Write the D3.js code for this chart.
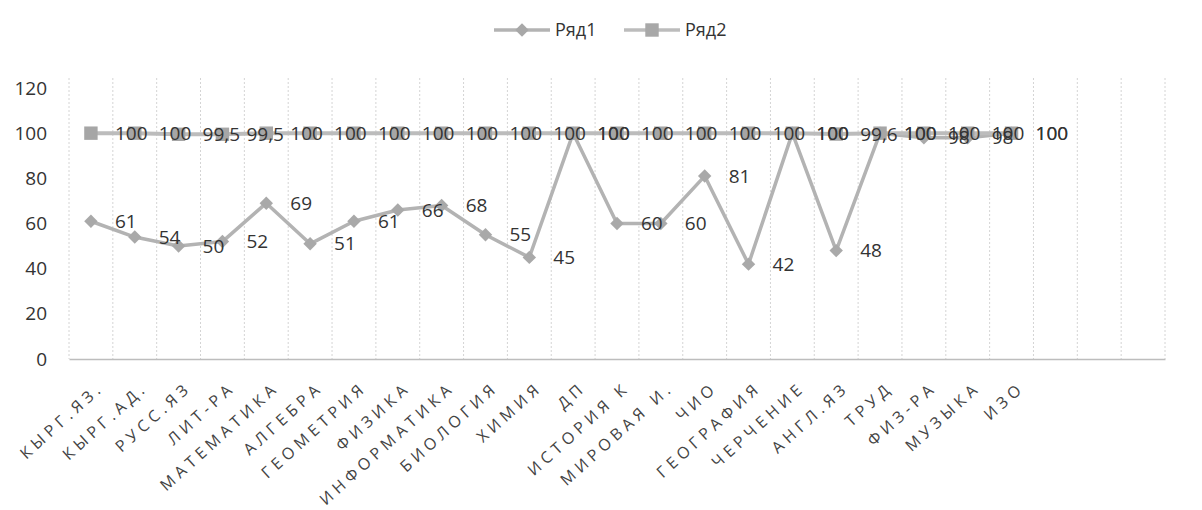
<!DOCTYPE html>
<html>
<head>
<meta charset="utf-8">
<script src="https://cdn.jsdelivr.net/npm/d3@7"></script>
<style>
    body { margin: 0; background: #fff; }
    svg { font-family: "Open Sans", "DejaVu Sans", sans-serif; }
</style>
</head>
<body>
<svg width="1202" height="510"></svg>
<script>
// subjects on the category axis
var categories = ["КЫРГ.ЯЗ.", "КЫРГ.АД.", "РУСС.ЯЗ", "ЛИТ-РА", "МАТЕМАТИКА", "АЛГЕБРА",
    "ГЕОМЕТРИЯ", "ФИЗИКА", "ИНФОРМАТИКА", "БИОЛОГИЯ", "ХИМИЯ", "ДП", "ИСТОРИЯ К",
    "МИРОВАЯ И.", "ЧИО", "ГЕОГРАФИЯ", "ЧЕРЧЕНИЕ", "АНГЛ.ЯЗ", "ТРУД", "ФИЗ-РА", "МУЗЫКА", "ИЗО"];
var emptySlots = 3;   // the axis runs on past ИЗО with blank categories

var seriesNames = ["Ряд1", "Ряд2"];
var row1 = [61, 54, 50, 52, 69, 51, 61, 66, 68, 55, 45, 100, 60, 60, 81, 42, 100, 48, 100, 98, 98, 100];
var row2 = [100, 100, 99.5, 99.5, 100, 100, 100, 100, 100, 100, 100, 100, 100, 100, 100, 100, 100, 99.6, 100, 100, 100, 100];

var yTicks = [0, 20, 40, 60, 80, 100, 120];

var svg = d3.select("svg");

var x = d3.scaleBand()
    .domain(d3.range(categories.length + emptySlots))
    .range([69, 1165])
    .padding(0);

var y = d3.scaleLinear()
    .domain([0, 120])
    .range([359, 88]);

var cx = function (i) { return x(i) + x.bandwidth() / 2; };

// vertical gridlines between categories
var bounds = x.domain().map(function (i) { return x(i); }).concat([x.range()[1]]);
svg.append("g")
    .selectAll("line")
    .data(bounds)
    .enter().append("line")
    .attr("x1", function (d) { return d; })
    .attr("x2", function (d) { return d; })
    .attr("y1", y(120) - 10)
    .attr("y2", y(0))
    .attr("stroke", "#d4d4d4")
    .attr("stroke-dasharray", "2,2");

// y axis, labels only
var yAxis = svg.append("g")
    .attr("transform", "translate(50,0)")
    .call(d3.axisLeft(y).tickValues(yTicks).tickSize(0));
yAxis.select(".domain").remove();
yAxis.selectAll("text")
    .attr("font-size", 19)
    .attr("fill", "#333")
    .attr("font-family", "Open Sans, sans-serif");

// x axis
var xAxis = svg.append("g")
    .attr("transform", "translate(0," + y(0) + ")")
    .call(d3.axisBottom(x).tickSize(0).tickFormat(function (i) { return categories[i] || ""; }));
xAxis.select(".domain").attr("stroke", "#bdbdbd").attr("stroke-width", 1.5);
xAxis.selectAll("text")
    .attr("font-size", 16)
    .attr("fill", "#444")
    .attr("letter-spacing", "4.6px")
    .attr("font-family", "Open Sans, sans-serif")
    .attr("text-anchor", "end")
    .attr("dy", null)
    .attr("y", 0)
    .attr("transform", "translate(14,30) rotate(-42)");

var line = d3.line()
    .x(function (d, i) { return cx(i); })
    .y(function (d) { return y(d); });

var diamond = d3.symbol().type(d3.symbolDiamond2).size(115);
var square = d3.symbol().type(d3.symbolSquare).size(180);

// Ряд1
svg.append("path")
    .datum(row1)
    .attr("fill", "none")
    .attr("stroke", "#b3b3b3")
    .attr("stroke-width", 3.5)
    .attr("stroke-linejoin", "round")
    .attr("d", line);
svg.append("g")
    .selectAll("path")
    .data(row1)
    .enter().append("path")
    .attr("d", diamond)
    .attr("transform", function (d, i) { return "translate(" + cx(i) + "," + y(d) + ")"; })
    .attr("fill", "#a9a9a9");

// Ряд2
svg.append("path")
    .datum(row2)
    .attr("fill", "none")
    .attr("stroke", "#bcbcbc")
    .attr("stroke-width", 4)
    .attr("stroke-linejoin", "round")
    .attr("d", line);
svg.append("g")
    .selectAll("path")
    .data(row2)
    .enter().append("path")
    .attr("d", square)
    .attr("transform", function (d, i) { return "translate(" + cx(i) + "," + y(d) + ")"; })
    .attr("fill", "#a6a6a6");

// data labels, to the right of each point
var fmt = function (v) { return String(v).replace(".", ","); };
[row1, row2].forEach(function (row) {
    svg.append("g")
        .selectAll("text")
        .data(row)
        .enter().append("text")
        .attr("x", function (d, i) { return cx(i) + 24; })
        .attr("y", function (d) { return y(d); })
        .attr("dy", "0.35em")
        .attr("font-size", 19)
        .attr("fill", "#333")
        .text(fmt);
});

// legend
var legend = svg.append("g").attr("transform", "translate(494,30)");
var legItems = legend.selectAll("g")
    .data(seriesNames)
    .enter().append("g")
    .attr("transform", function (d, i) { return "translate(" + (i * 130) + ",0)"; });
legItems.append("line")
    .attr("x1", 0).attr("x2", 56)
    .attr("stroke", function (d, i) { return i ? "#bcbcbc" : "#b3b3b3"; })
    .attr("stroke-width", 3.5);
legItems.append("path")
    .attr("d", function (d, i) { return i ? square() : diamond(); })
    .attr("transform", "translate(28,0)")
    .attr("fill", "#a8a8a8");
legItems.append("text")
    .attr("x", 61)
    .attr("dy", "0.35em")
    .attr("font-size", 18)
    .attr("fill", "#333")
    .text(function (d) { return d; });
</script>
</body>
</html>
